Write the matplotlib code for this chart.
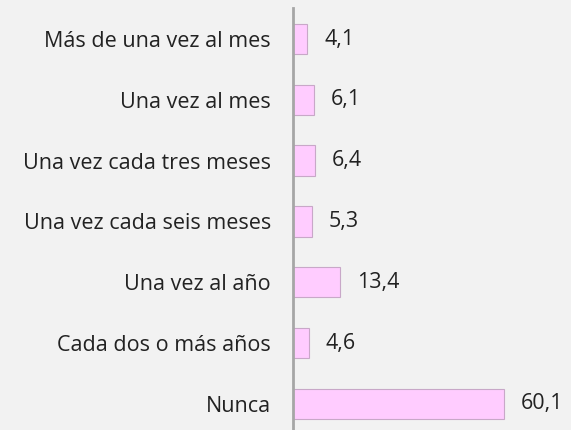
import matplotlib.pyplot as plt

categories = ["Más de una vez al mes", "Una vez al mes", "Una vez cada tres meses",
              "Una vez cada seis meses", "Una vez al año", "Cada dos o más años", "Nunca"]
values = [4.1, 6.1, 6.4, 5.3, 13.4, 4.6, 60.1]
labels = ["4,1", "6,1", "6,4", "5,3", "13,4", "4,6", "60,1"]

plt.rcParams['font.family'] = ['Open Sans', 'DejaVu Sans']

fig = plt.figure(figsize=(5.71, 4.30), dpi=100)
fig.patch.set_facecolor('#f2f2f2')

# axes box: left edge at the vertical axis line
ax = fig.add_axes([293 / 571, 0.0, 1 - 293 / 571, 422 / 430])
ax.set_facecolor('none')

y = list(range(len(categories)))
ax.barh(y, values, height=0.5, color='#ffccff', edgecolor='#c8a8c8', linewidth=0.8)

for yi, v, lab in zip(y, values, labels):
    ax.annotate(lab, (v, yi), xytext=(12, 0), textcoords='offset points',
                ha='left', va='center', fontsize=15.5, color='#222222')

ax.set_xlim(0, 79.2)
ax.set_ylim(6.43, -0.51)
ax.set_yticks(y)
ax.set_yticklabels(categories, fontsize=15.5, color='#222222')
ax.tick_params(axis='y', length=0, pad=16)
ax.set_xticks([])

for s in ['top', 'right', 'bottom']:
    ax.spines[s].set_visible(False)
ax.spines['left'].set_color('#a6a6a6')
ax.spines['left'].set_linewidth(2)

fig.savefig('out.png', dpi=100, facecolor=fig.get_facecolor())
